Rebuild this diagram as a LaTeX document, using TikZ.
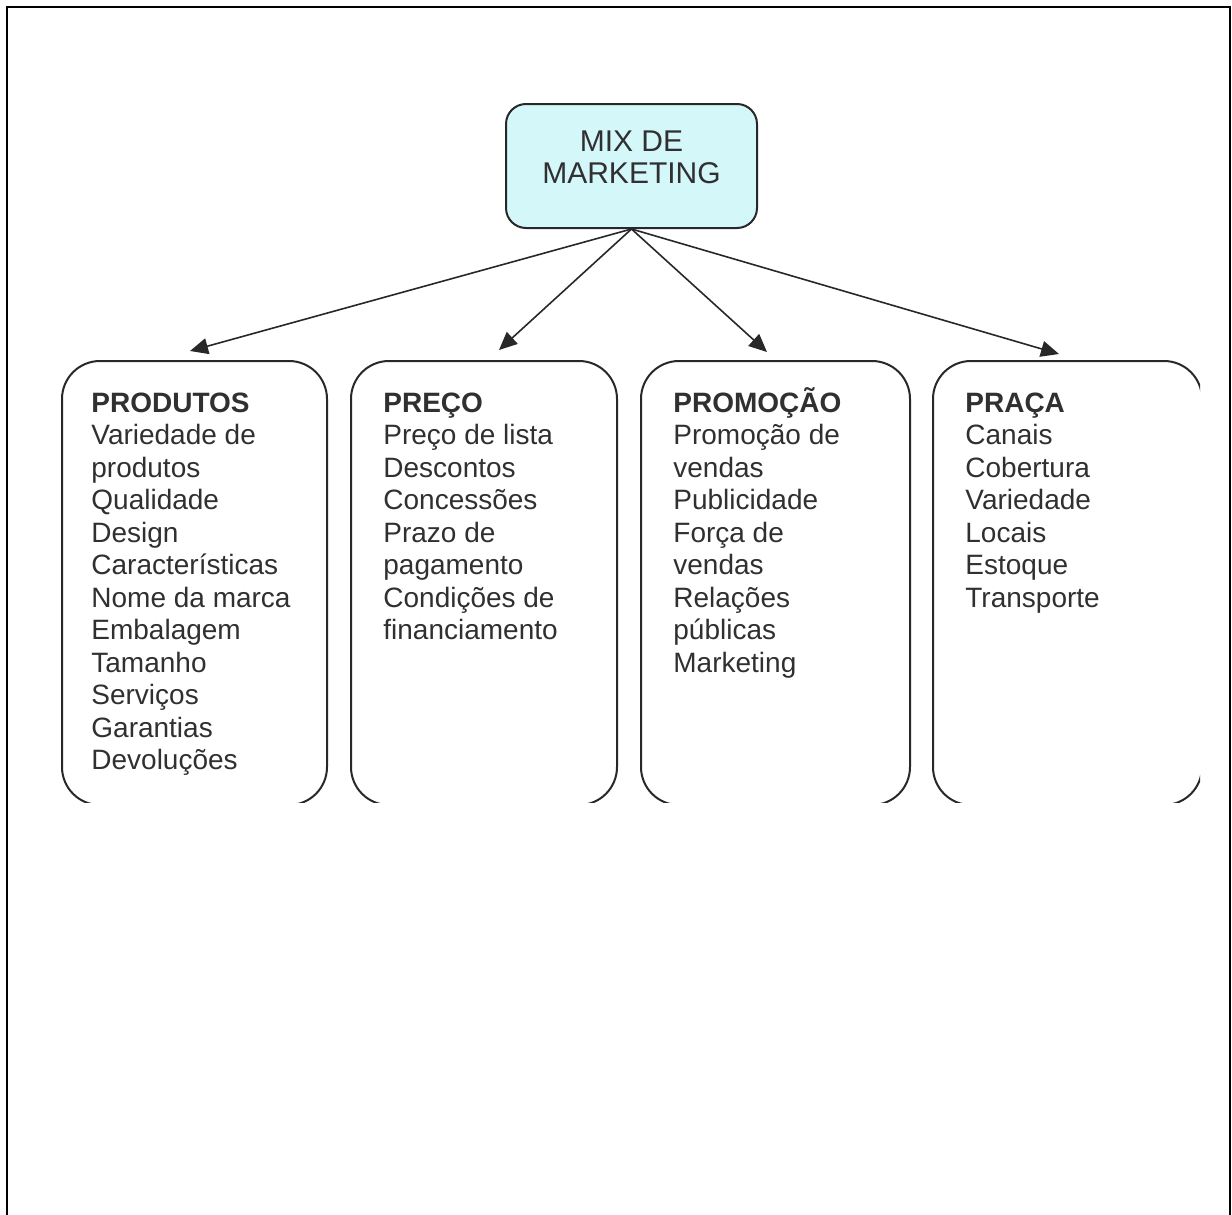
\documentclass[tikz,border=0pt]{standalone}
\usepackage{fontspec}
\setmainfont{Liberation Sans}
\usetikzlibrary{arrows.meta}
\definecolor{mixfill}{RGB}{212,247,250}
\definecolor{txt}{RGB}{48,48,48}
\definecolor{edge}{RGB}{40,40,40}
\tikzset{
  frameline/.style={line width=1pt, draw=black},
  boxline/.style={line width=1pt, draw=edge, rounded corners=19pt},
  mixbox/.style={draw=edge, line width=1pt, fill=mixfill, rounded corners=10pt,
    minimum width=125.5pt, minimum height=62pt, inner sep=0pt},
  mixtext/.style={align=center, text=txt, font=\fontsize{15}{16}\selectfont, inner sep=0pt},
  boxtext/.style={anchor=north west, align=left, inner sep=0pt, text=txt,
    font=\fontsize{14}{16.25}\selectfont},
  conn/.style={line width=0.8pt, draw=edge, -{Triangle[length=9pt,width=8pt]}}
}
\begin{document}
\begin{tikzpicture}[x=0.5pt,y=-0.5pt]
\useasboundingbox (0,0) rectangle (1232,1215);
% outer frame (open at the bottom)
\draw[frameline] (7,1216) -- (7,7) -- (1230,7) -- (1230,1216);

% top node
\node[mixbox] (mix) at (631.5,166) {};
\node[mixtext] (mixlabel) at (631.5,157) {MIX DE\\MARKETING};

% the four boxes (bottom edge cut off as in the reference)
\begin{scope}
  \clip (0,0) rectangle (1232,802);
  \draw[boxline] (62,361) rectangle (327,805);
  \draw[boxline] (351,361) rectangle (617,805);
  \draw[boxline] (641,361) rectangle (910,805);
\end{scope}
\begin{scope}
  \clip (0,0) rectangle (1200,802);
  \draw[boxline] (933,361) rectangle (1202,805);
\end{scope}

% box texts
\node[boxtext] (prod) at (91,384) {\rule{0pt}{14pt}\textbf{PRODUTOS}\\
Variedade de\\produtos\\Qualidade\\Design\\Características\\Nome da marca\\
Embalagem\\Tamanho\\Serviços\\Garantias\\Devoluções};
\node[boxtext] (preco) at (383,384) {\rule{0pt}{14pt}\textbf{PREÇO}\\
Preço de lista\\Descontos\\Concessões\\Prazo de\\pagamento\\Condições de\\financiamento};
\node[boxtext] (promo) at (673,384) {\rule{0pt}{14pt}\textbf{PROMOÇÃO}\\
Promoção de\\vendas\\Publicidade\\Força de\\vendas\\Relações\\públicas\\Marketing};
\node[boxtext] (praca) at (965,384) {\rule{0pt}{14pt}\textbf{PRAÇA}\\
Canais\\Cobertura\\Variedade\\Locais\\Estoque\\Transporte};

% arrow targets
\coordinate (t1) at (190,351);
\coordinate (t2) at (499,350);
\coordinate (t3) at (767,352);
\coordinate (t4) at (1059,354);

\draw[conn] (mix.south) -- (t1);
\draw[conn] (mix.south) -- (t2);
\draw[conn] (mix.south) -- (t3);
\draw[conn] (mix.south) -- (t4);
\end{tikzpicture}
\end{document}
